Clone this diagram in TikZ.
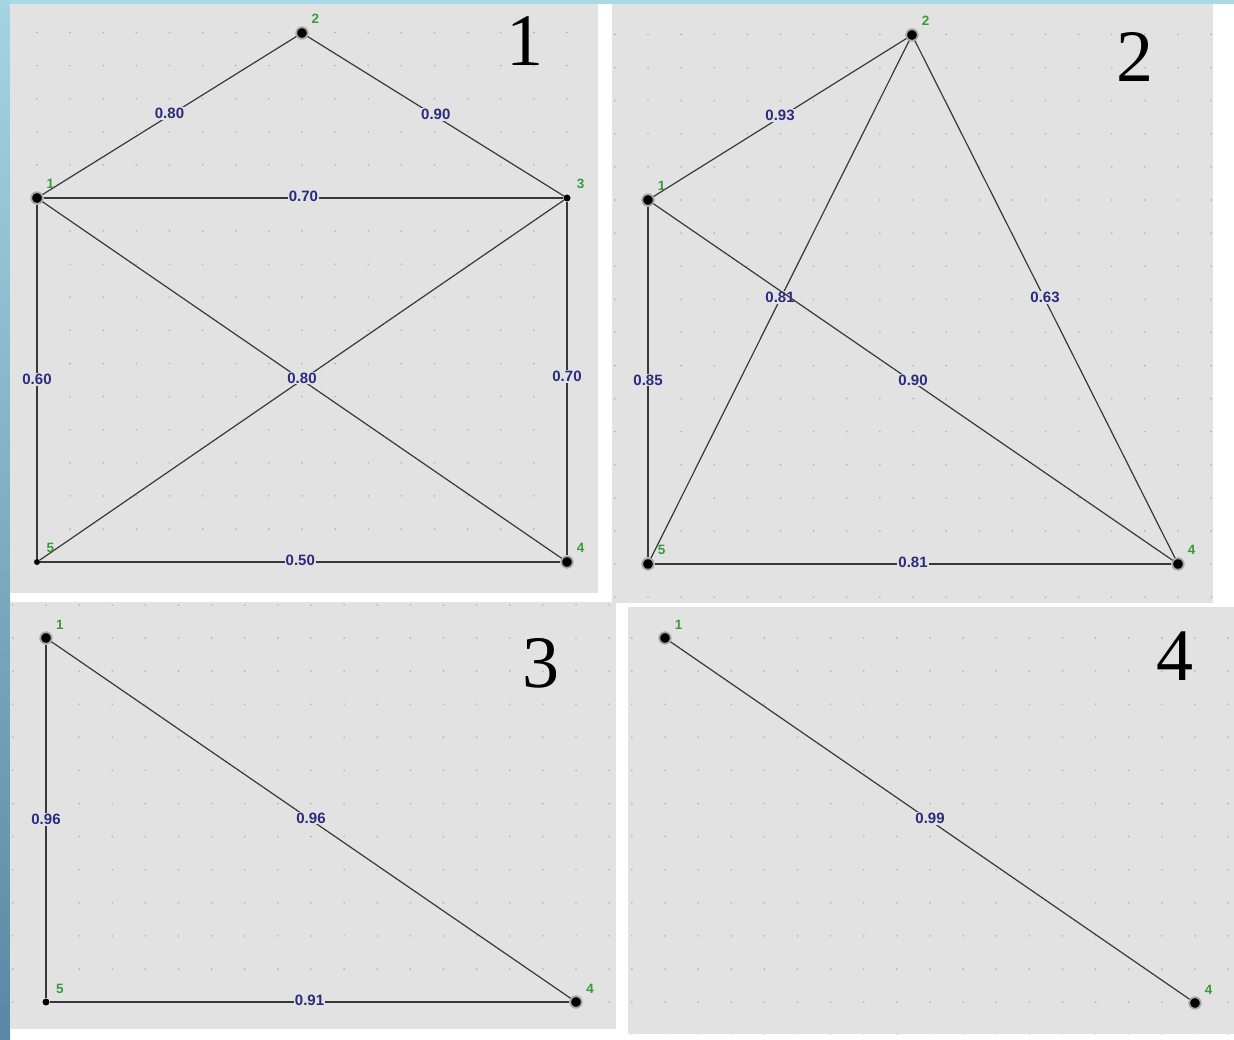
\documentclass[tikz,border=0pt]{standalone}
\usepackage{fontspec}
\newfontfamily\labfont{Liberation Sans}
\newfontfamily\bigfont{Liberation Serif}
\definecolor{panelc}{HTML}{E2E2E2}
\definecolor{dotc}{HTML}{B2B2B2}
\definecolor{edgec}{HTML}{383838}
\definecolor{navyc}{HTML}{2B2B7E}
\definecolor{greenc}{HTML}{3A9A3A}
\definecolor{topblue}{HTML}{A9D8E6}
\definecolor{stripTop}{HTML}{A4D4E2}
\definecolor{stripBot}{HTML}{5A88A3}
\newcommand\mydotgrid[2]{%
  \foreach \i in {-2,...,18}{\foreach \j in {-7,...,13}{%
    \fill[dotc] (#1+\i*33.125,#2+\j*33.1) circle (0.9pt);}}}
\begin{document}
\begin{tikzpicture}[x=1pt,y=-1pt,
  panel/.style={fill=panelc,draw=none},
  edge/.style={draw=edgec,line width=1.2pt},
  ring/.style={circle,fill=black,draw=gray!70,line width=1.8pt,minimum size=11.5pt,inner sep=0pt},
  dotn/.style={circle,fill=black,minimum size=7pt,inner sep=0pt},
  elab/.style={fill=panelc,inner sep=1pt,text=navyc,font=\labfont\bfseries\fontsize{15}{15}\selectfont,yshift=2pt},
  nlab/.style={inner sep=0pt,text=greenc,font=\labfont\bfseries\fontsize{13.5}{13.5}\selectfont},
  big/.style={inner sep=0pt,font=\bigfont\fontsize{74}{78}\selectfont}]
\useasboundingbox (0,0) rectangle (1234,1040);
\fill[white] (0,0) rectangle (1234,1040);
\fill[topblue] (0,0) rectangle (1234,4);
\shade[top color=stripTop,bottom color=stripBot] (0,0) rectangle (10,1040);
% panels
\fill[panel] (10,4) rectangle (598,593);
\fill[panel] (612,4) rectangle (1213,603);
\fill[panel] (10,602) rectangle (616,1029);
\fill[panel] (628,607) rectangle (1234,1034);
\begin{scope}\clip (10,4) rectangle (598,593); \mydotgrid{37}{198}\end{scope}
\begin{scope}\clip (612,4) rectangle (1213,603); \mydotgrid{648}{200}\end{scope}
\begin{scope}\clip (10,602) rectangle (616,1029); \mydotgrid{46}{638}\end{scope}
\begin{scope}\clip (628,607) rectangle (1234,1034); \mydotgrid{665}{638}\end{scope}
% big panel numbers
\node[big] (num1) at (525,41) {1};
\node[big] (num2) at (1135,57) {2};
\node[big] (num3) at (541,663) {3};
\node[big] (num4) at (1175,656) {4};
% ---- panel 1
\node[ring] (p1n1) at (37,198) {};
\node[ring] (p1n2) at (302,33) {};
\node[dotn] (p1n3) at (567,198) {};
\node[ring] (p1n4) at (567,562) {};
\node[dotn,minimum size=6pt] (p1n5) at (37,562) {};
\draw[edge] (p1n1) -- node[elab]{0.80} (p1n2);
\draw[edge] (p1n2) -- node[elab]{0.90} (p1n3);
\draw[edge] (p1n1) -- node[elab]{0.70} (p1n3);
\draw[edge] (p1n1) -- node[elab]{0.60} (p1n5);
\draw[edge] (p1n3) -- node[elab]{0.70} (p1n4);
\draw[edge] (p1n3) -- (p1n5);
\draw[edge] (p1n1) -- node[elab]{0.80} (p1n4);
\draw[edge] (p1n5) -- node[elab]{0.50} (p1n4);
\foreach \k in {1,...,5}{\node[nlab] (p1t\k) at ([shift={(13.5,-14.5)}]p1n\k) {\k};}
% ---- panel 2
\node[ring] (p2n1) at (648,200) {};
\node[ring] (p2n2) at (912,35) {};
\node[ring] (p2n4) at (1178,564) {};
\node[ring] (p2n5) at (648,564) {};
\draw[edge] (p2n1) -- node[elab]{0.93} (p2n2);
\draw[edge] (p2n2) -- node[elab]{0.63} (p2n4);
\draw[edge] (p2n2) -- node[elab]{0.81} (p2n5);
\draw[edge] (p2n1) -- node[elab]{0.90} (p2n4);
\draw[edge] (p2n1) -- node[elab]{0.85} (p2n5);
\draw[edge] (p2n5) -- node[elab]{0.81} (p2n4);
\foreach \k in {1,2,4,5}{\node[nlab] (p2t\k) at ([shift={(13.5,-14.5)}]p2n\k) {\k};}
% ---- panel 3
\node[ring] (p3n1) at (46,638) {};
\node[ring] (p3n4) at (576,1002) {};
\node[dotn] (p3n5) at (46,1002) {};
\draw[edge] (p3n1) -- node[elab]{0.96} (p3n5);
\draw[edge] (p3n1) -- node[elab]{0.96} (p3n4);
\draw[edge] (p3n5) -- node[elab]{0.91} (p3n4);
\foreach \k in {1,4,5}{\node[nlab] (p3t\k) at ([shift={(14,-13)}]p3n\k) {\k};}
% ---- panel 4
\node[ring] (p4n1) at (665,638) {};
\node[ring] (p4n4) at (1195,1003) {};
\draw[edge] (p4n1) -- node[elab]{0.99} (p4n4);
\foreach \k in {1,4}{\node[nlab] (p4t\k) at ([shift={(13.5,-13)}]p4n\k) {\k};}
\end{tikzpicture}
\end{document}
